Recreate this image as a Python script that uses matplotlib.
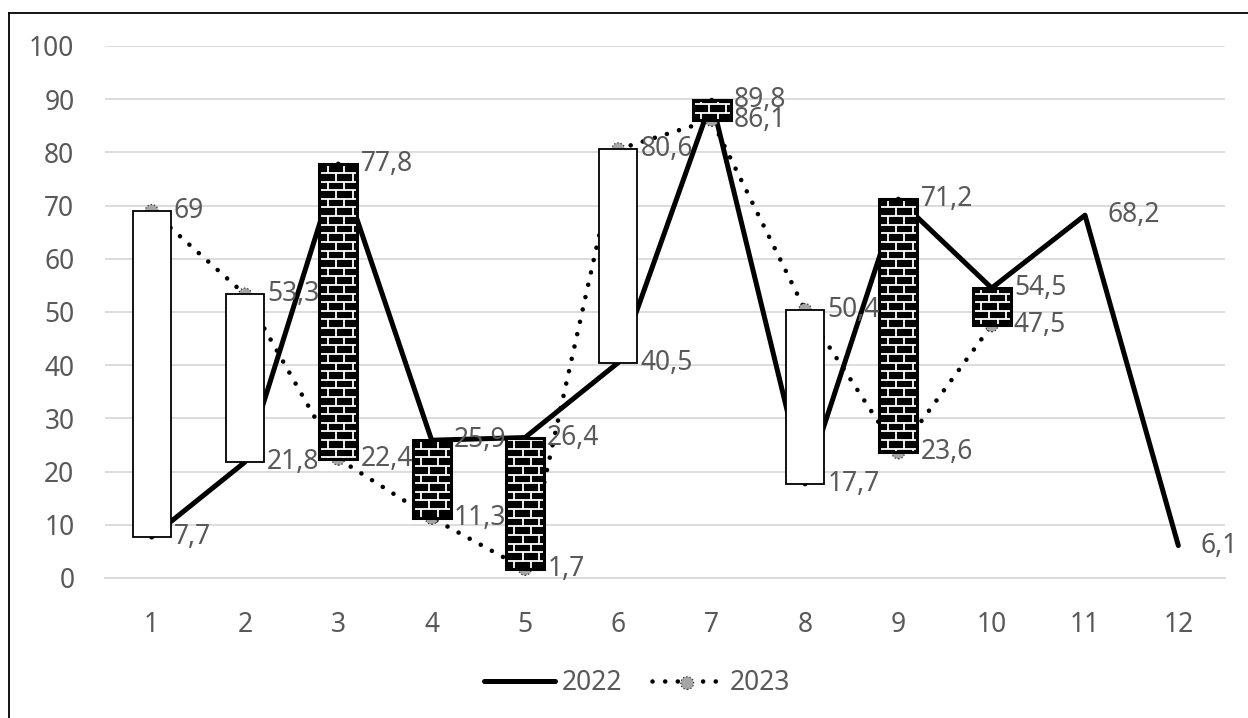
import matplotlib
matplotlib.use('Agg')
import matplotlib.pyplot as plt
from matplotlib.patches import Rectangle
from matplotlib.collections import LineCollection
from matplotlib.lines import Line2D

plt.rcParams['font.family'] = ['Noto Sans', 'DejaVu Sans']

months = [1, 2, 3, 4, 5, 6, 7, 8, 9, 10, 11, 12]
y2022 = [7.7, 21.8, 77.8, 25.9, 26.4, 40.5, 89.8, 17.7, 71.2, 54.5, 68.2, 6.1]
y2023 = [69, 53.3, 22.4, 11.3, 1.7, 80.6, 86.1, 50.4, 23.6, 47.5]

TEXT = '#595959'
GRID = '#d9d9d9'
FS = 19


def fmt(v):
    return f'{v:g}'.replace('.', ',')


def brick_bar(ax, x0, y0, w, h, row_h=1.62, brick_w=0.18):
    """Black bar with white brick mortar lines, clipped to the bar."""
    body = Rectangle((x0, y0), w, h, facecolor='black', edgecolor='none', zorder=4)
    ax.add_patch(body)
    segs = []
    k0 = int(y0 // row_h)
    k1 = int((y0 + h) // row_h) + 1
    for k in range(k0, k1 + 1):
        yb = k * row_h
        segs.append([(x0 - 1, yb), (x0 + w + 1, yb)])
        shift = (k % 2) * brick_w / 2
        xv = x0 - brick_w + shift
        while xv < x0 + w + brick_w:
            segs.append([(xv, yb), (xv, yb + row_h)])
            xv += brick_w
    lc = LineCollection(segs, colors='white', linewidths=1.3, zorder=4.1)
    ax.add_collection(lc)
    lc.set_clip_path(body)
    ax.add_patch(Rectangle((x0, y0), w, h, facecolor='none', edgecolor='black',
                           lw=2.2, zorder=4.2))


fig = plt.figure(figsize=(12.48, 7.18), dpi=100)
ax = fig.add_axes([105 / 1248, 1 - 578 / 718, 1120 / 1248, 532 / 718])

# chart area border
fig.add_artist(Line2D([9 / 1248, 9 / 1248], [0, 1 - 13 / 718], color='black', lw=1.3))
fig.add_artist(Line2D([9 / 1248, 1], [1 - 13 / 718, 1 - 13 / 718], color='black', lw=1.3))

l22, = ax.plot(months, y2022, color='black', lw=3.6, solid_capstyle='round',
               solid_joinstyle='round', zorder=2)
x23 = months[:len(y2023)]
l23, = ax.plot(x23, y2023, color='black', lw=3.3, linestyle=(0, (0.01, 2.75)),
               dash_capstyle='round', zorder=2)
m23 = ax.scatter(x23, y2023, s=85, facecolor='#a6a6a6', edgecolor='#333333',
                 linewidths=0.9, linestyle=':', zorder=3)

# up/down bars between the two years
bw = 0.41
for x, a, b in zip(x23, y2022, y2023):
    lo, hi = min(a, b), max(a, b)
    if b >= a:
        ax.add_patch(Rectangle((x - bw / 2, lo), bw, hi - lo, facecolor='white',
                               edgecolor='black', lw=1.3, zorder=4))
    else:
        brick_bar(ax, x - bw / 2, lo, bw, hi - lo)

for x, v in zip(months, y2022):
    ax.annotate(fmt(v), (x, v), xytext=(16, 0), textcoords='offset points',
                ha='left', va='center', fontsize=FS, color=TEXT, zorder=6)
for x, v in zip(x23, y2023):
    ax.annotate(fmt(v), (x, v), xytext=(16, 0), textcoords='offset points',
                ha='left', va='center', fontsize=FS, color=TEXT, zorder=6)

ax.set_xlim(0.5, 12.5)
ax.set_ylim(0, 100)
ax.set_yticks(range(0, 101, 10))
ax.set_xticks(months)
ax.grid(axis='y', color=GRID, lw=1.3, zorder=0)
ax.set_axisbelow(True)
for s in ['top', 'right', 'left']:
    ax.spines[s].set_visible(False)
ax.spines['bottom'].set_color(GRID)
ax.spines['bottom'].set_linewidth(1.3)
ax.tick_params(axis='both', length=0, labelsize=FS, labelcolor=TEXT)
ax.tick_params(axis='y', pad=22)
ax.tick_params(axis='x', pad=24)

fig.legend([l22, (l23, m23)], ['2022', '2023'], loc='center',
           bbox_to_anchor=(637 / 1248, 1 - 683 / 718), ncol=2, frameon=False,
           fontsize=FS, labelcolor=TEXT, handlelength=2.7, handletextpad=0.25,
           columnspacing=1.1)

fig.savefig('out.png', dpi=100)
